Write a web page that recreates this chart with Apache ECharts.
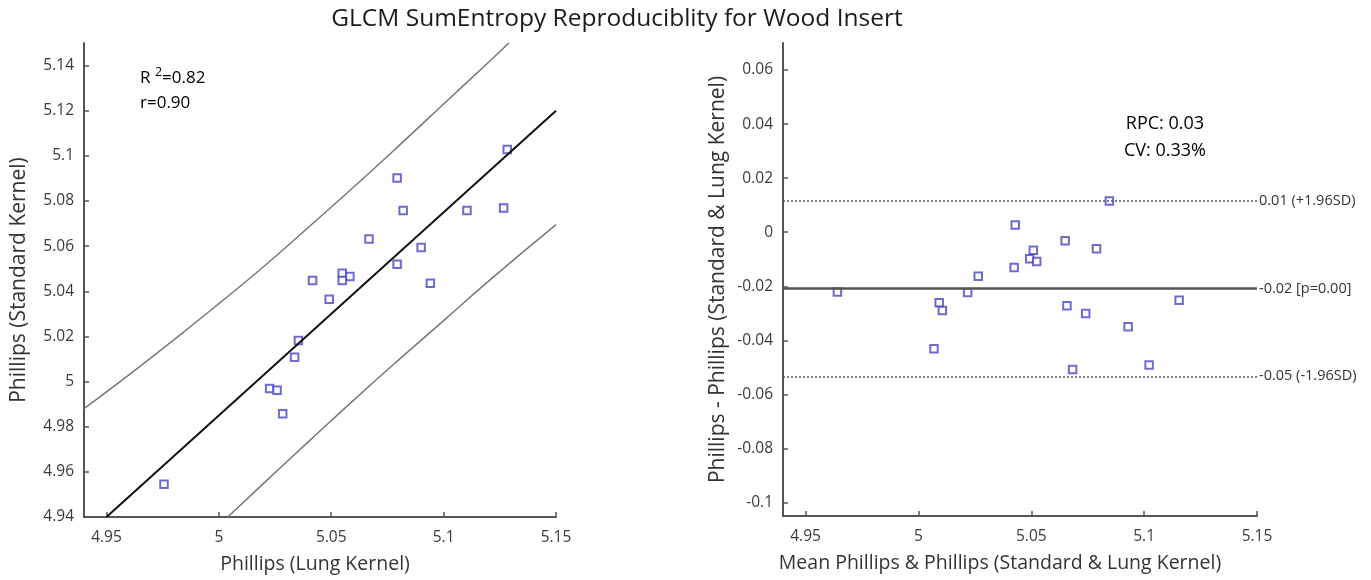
<!DOCTYPE html>
<html>
<head>
<meta charset="utf-8">
<script src="https://cdn.jsdelivr.net/npm/echarts@6/dist/echarts.min.js"></script>
<style>html,body{margin:0;padding:0;background:#fff}#c{width:1371px;height:580px}</style>
</head>
<body>
<div id="c"></div>
<script>
// ---------- Data ----------
// Left: correlation plot
const lungKernel = [5.1283,5.0793,5.0820,5.1104,5.1267,5.0668,5.0900,5.0793,5.0549,5.0583,5.0549,5.0417,5.0941,5.0491,5.0354,5.0337,5.0226,5.0259,5.0284,4.9756];
const standardKernel = [5.1028,5.0902,5.0758,5.0758,5.0769,5.0632,5.0594,5.0520,5.0480,5.0466,5.0448,5.0448,5.0436,5.0365,5.0182,5.0108,4.9969,4.9961,4.9857,4.9545];
const fitX = [4.95, 5.15];
const fitY = [4.94, 5.12];
const upperBandX = [4.94, 4.96, 4.98, 5.00, 5.02, 5.04, 5.06, 5.08, 5.10, 5.12, 5.129];
const upperBandY = [4.988, 5.003, 5.0185, 5.0345, 5.051, 5.0685, 5.0862, 5.1044, 5.123, 5.1415, 5.150];
const lowerBandX = [5.004, 5.02, 5.04, 5.06, 5.08, 5.10, 5.12, 5.15];
const lowerBandY = [4.940, 4.955, 4.9735, 4.9918, 5.0096, 5.027, 5.0445, 5.0695];
const leftXTicks = [4.95, 5, 5.05, 5.1, 5.15];
const leftYTicks = [4.94, 4.96, 4.98, 5, 5.02, 5.04, 5.06, 5.08, 5.1, 5.12, 5.14];

// Right: Bland-Altman plot
const meanValues = [5.0846,5.0429,5.0650,5.0789,5.0509,5.0493,5.0524,5.0424,5.0265,4.9641,5.0218,5.0092,5.0106,5.0658,5.0741,5.1155,5.0929,5.0069,5.1022,5.0683];
const diffValues = [0.0115,0.0027,-0.0032,-0.0061,-0.0067,-0.0098,-0.0108,-0.0131,-0.0163,-0.0221,-0.0223,-0.0261,-0.0290,-0.0272,-0.0301,-0.0252,-0.0350,-0.0431,-0.0491,-0.0508];
const meanDiff = -0.0208;
const upperLoA = 0.0117;
const lowerLoA = -0.0533;
const rightXTicks = [4.95, 5, 5.05, 5.1, 5.15];
const rightYTicks = [-0.1, -0.08, -0.06, -0.04, -0.02, 0, 0.02, 0.04, 0.06];

// ---------- Chart ----------
const FONT = '"Open Sans", "Noto Sans", sans-serif';
const axisColor = '#555';
const blue = '#4747c4';
const fmt = v => String(Number((+v).toFixed(3)));
const zip = (a, b) => a.map((v, i) => [v, b[i]]);

function valueAxis(gridIndex, min, max, ticks, name, nameGap, isY, namePad) {
  return {
    type: 'value', gridIndex, min, max, name, nameLocation: 'middle', nameGap,
    nameTextStyle: {fontFamily: FONT, fontSize: isY ? 21 : 19.5, color: '#333', padding: namePad || 0},
    axisLine: {show: true, onZero: false, lineStyle: {color: axisColor, width: 2}},
    axisTick: {show: true, inside: true, length: 5, customValues: ticks, lineStyle: {color: axisColor, width: 1.5}},
    axisLabel: {customValues: ticks, formatter: fmt, fontFamily: FONT, fontSize: 15.5, color: '#3a3a3a', margin: isY ? 10 : 13},
    splitLine: {show: false}
  };
}

const chart = echarts.init(document.getElementById('c'), null, {renderer: 'canvas'});
chart.setOption({
  animation: false,
  backgroundColor: '#fff',
  title: {
    text: 'GLCM SumEntropy Reproduciblity for Wood Insert',
    left: 617, top: 7, padding: 0, textAlign: 'center',
    textStyle: {fontFamily: FONT, fontSize: 24.5, fontWeight: 'normal', color: '#1a1a1a'}
  },
  grid: [
    {left: 84, right: 1371 - 556, top: 43, bottom: 580 - 517},
    {left: 783, right: 1371 - 1257, top: 43, bottom: 580 - 516}
  ],
  xAxis: [
    valueAxis(0, 4.94, 5.15, leftXTicks, 'Phillips (Lung Kernel)', 37, false, [0, 10, 0, 0]),
    valueAxis(1, 4.94, 5.15, rightXTicks, 'Mean Phillips & Phillips (Standard & Lung Kernel)', 37, false, [0, 40, 0, 0])
  ],
  yAxis: [
    valueAxis(0, 4.94, 5.15, leftYTicks, 'Phillips (Standard Kernel)', 54, true),
    valueAxis(1, -0.105, 0.07, rightYTicks, 'Phillips - Phillips (Standard & Lung Kernel)', 54, true)
  ],
  series: [
    {type: 'line', xAxisIndex: 0, yAxisIndex: 0, data: zip(upperBandX, upperBandY), showSymbol: false, smooth: true,
     lineStyle: {color: '#777', width: 1.5}, silent: true},
    {type: 'line', xAxisIndex: 0, yAxisIndex: 0, data: zip(lowerBandX, lowerBandY), showSymbol: false, smooth: true,
     lineStyle: {color: '#777', width: 1.5}, silent: true},
    {type: 'line', xAxisIndex: 0, yAxisIndex: 0, data: zip(fitX, fitY), showSymbol: false,
     lineStyle: {color: '#111', width: 2}, silent: true},
    {type: 'scatter', xAxisIndex: 0, yAxisIndex: 0, data: zip(lungKernel, standardKernel),
     symbol: 'emptyRect', symbolSize: 7.5, itemStyle: {color: blue, borderWidth: 1.4}},
    {type: 'scatter', xAxisIndex: 1, yAxisIndex: 1, data: zip(meanValues, diffValues),
     symbol: 'emptyRect', symbolSize: 7.5, itemStyle: {color: blue, borderWidth: 1.4},
     markLine: {
       silent: true, symbol: 'none', animation: false, precision: 4,
       label: {position: 'end', distance: 2, fontFamily: FONT, fontSize: 14.5, color: '#333'},
       data: [
         {yAxis: upperLoA, lineStyle: {type: [2, 2], color: '#555', width: 1.5},
          label: {formatter: '0.01 (+1.96SD)'}},
         {yAxis: meanDiff, lineStyle: {type: 'solid', color: '#555', width: 2.5},
          label: {formatter: '-0.02 [p=0.00]'}},
         {yAxis: lowerLoA, lineStyle: {type: [2, 2], color: '#555', width: 1.5},
          label: {formatter: '-0.05 (-1.96SD)'}}
       ]
     }}
  ],
  graphic: [
    {type: 'text', left: 140, top: 66, style: {
      text: '{a|R }{s|2}{a|=0.82}\n{a|r=0.90}',
      rich: {a: {fontFamily: FONT, fontSize: 17, color: '#222', lineHeight: 25},
             s: {fontFamily: FONT, fontSize: 12.5, color: '#222', verticalAlign: 'top', lineHeight: 25, padding: [0, 0, 9, 0]}}
    }},
    {type: 'text', left: 1124, top: 110, style: {
      text: 'RPC: 0.03\nCV: 0.33%', align: 'center', textAlign: 'center',
      fontFamily: FONT, fontSize: 18, color: '#222', lineHeight: 27
    }}
  ]
});
</script>
</body>
</html>
